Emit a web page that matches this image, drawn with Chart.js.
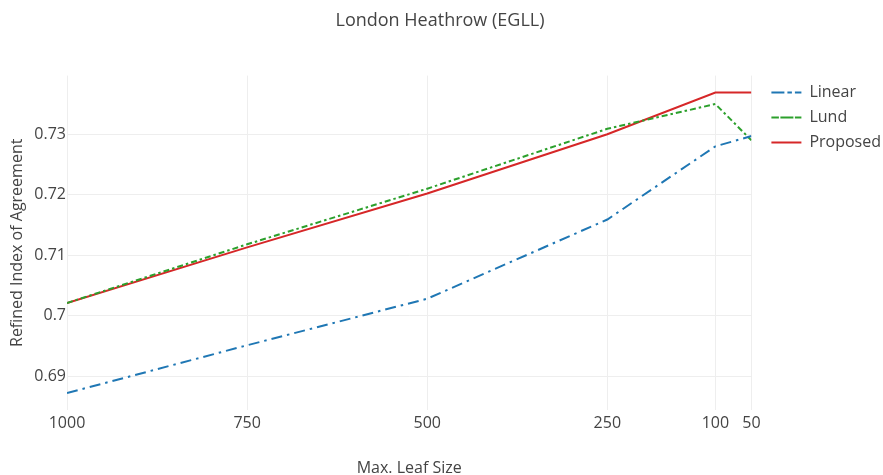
<!DOCTYPE html>
<html>
<head>
<meta charset="utf-8">
<script src="https://cdn.jsdelivr.net/npm/chart.js@4.4.1/dist/chart.umd.min.js"></script>
<style>
  html, body { margin: 0; padding: 0; background: #fff; }
  #wrap { width: 883px; height: 475px; position: relative; }
</style>
</head>
<body>
<div id="wrap"><canvas id="c" width="883" height="475"></canvas></div>
<script>
const leafSizes = [1000, 750, 500, 250, 100, 50];
const xTicks = [1000, 750, 500, 250, 100, 50];
const yTicks = [0.69, 0.70, 0.71, 0.72, 0.73];
const linearVals = [0.6872, 0.6951, 0.7028, 0.7159, 0.7280, 0.7297];
const lundVals = [0.7021, 0.7118, 0.7210, 0.7309, 0.7350, 0.7290];
const proposedVals = [0.7021, 0.7113, 0.7202, 0.7300, 0.7369, 0.7369];
const seriesNames = ['Linear', 'Lund', 'Proposed'];

const FONT = "'Open Sans', sans-serif";
const TXT = '#444';

function pts(vals) { return leafSizes.map((x, i) => ({ x: x, y: vals[i] })); }

const legendShift = {
  id: 'legendShift',
  beforeDraw(ch) {
    if (ch.legend) {
      const w = ch.legend.width;
      ch.legend.left = ch.chartArea.right + 11;
      ch.legend.right = ch.legend.left + w;
    }
  }
};

const chart = new Chart(document.getElementById('c'), {
  type: 'line',
  data: {
    datasets: [
      { label: seriesNames[0], data: pts(linearVals), borderColor: '#1f77b4', backgroundColor: '#1f77b4',
        borderWidth: 2, borderDash: [11, 5, 2.5, 5], pointRadius: 0, tension: 0 },
      { label: seriesNames[1], data: pts(lundVals), borderColor: '#2ca02c', backgroundColor: '#2ca02c',
        borderWidth: 2, borderDash: [6, 3, 2.5, 3], pointRadius: 0, tension: 0 },
      { label: seriesNames[2], data: pts(proposedVals), borderColor: '#d62728', backgroundColor: '#d62728',
        borderWidth: 2, pointRadius: 0, tension: 0 }
    ]
  },
  plugins: [legendShift],
  options: {
    responsive: false,
    animation: false,
    layout: { padding: { left: 0, right: 3, top: 0, bottom: 0 } },
    plugins: {
      title: {
        display: true, text: 'London Heathrow (EGLL)', color: TXT,
        font: { family: FONT, size: 18, weight: 'normal' },
        padding: { top: 10, bottom: 44 }
      },
      legend: {
        position: 'right', align: 'start', fullSize: false,
        labels: {
          color: TXT, font: { family: FONT, size: 16 },
          boxWidth: 30, boxHeight: 0,
          padding: 9,
          generateLabels: ch => Chart.defaults.plugins.legend.labels.generateLabels(ch)
            .map(l => Object.assign(l, { fillStyle: 'rgba(0,0,0,0)', lineWidth: 2 }))
        }
      },
      tooltip: { enabled: false }
    },
    scales: {
      x: {
        type: 'linear', reverse: true, min: 50, max: 1000,
        afterBuildTicks: s => { s.ticks = xTicks.map(v => ({ value: v })); },
        afterFit: s => { s.height = 65; },
        grid: { color: '#eeeeee', drawTicks: false },
        border: { display: false },
        ticks: { color: TXT, font: { family: FONT, size: 16 }, padding: 4, maxRotation: 0,
          callback: v => String(v) },
        title: { display: true, text: 'Max. Leaf Size', color: TXT,
          font: { family: FONT, size: 16 }, padding: { top: 15, bottom: -3 } }
      },
      y: {
        min: 0.6844, max: 0.7397,
        afterBuildTicks: s => { s.ticks = yTicks.map(v => ({ value: v })); },
        afterFit: s => { s.width = 67; },
        grid: { color: '#eeeeee', drawTicks: false },
        border: { display: false },
        ticks: { color: TXT, font: { family: FONT, size: 16 }, padding: 1,
          callback: v => String(parseFloat(v.toFixed(2))) },
        title: { display: true, text: 'Refined Index of Agreement', color: TXT,
          font: { family: FONT, size: 16 }, padding: { top: 8, bottom: 0 } }
      }
    }
  }
});
</script>
</body>
</html>
